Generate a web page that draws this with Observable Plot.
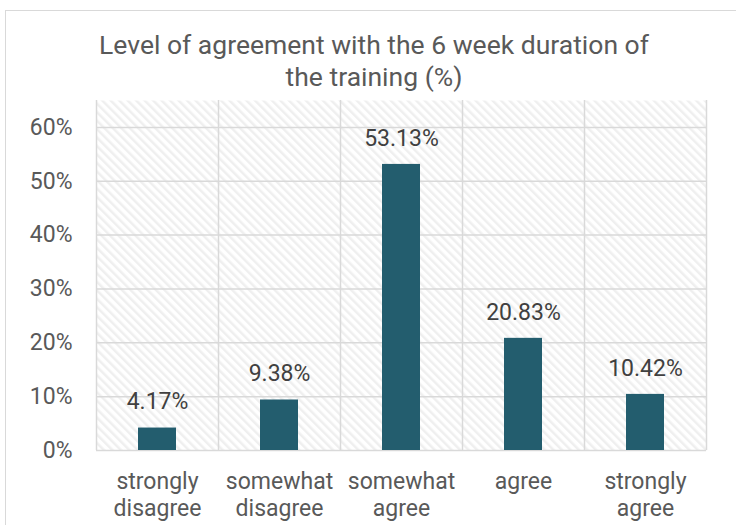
<!DOCTYPE html>
<html>
<head>
<meta charset="utf-8">
<script src="https://cdn.jsdelivr.net/npm/d3@7"></script>
<script src="https://cdn.jsdelivr.net/npm/@observablehq/plot@0.6"></script>
<style>
  html, body { margin: 0; padding: 0; background: #fff; }
  #wrap { position: relative; width: 736px; height: 525px; overflow: hidden; font-family: Roboto, sans-serif; }
  .bt { position: absolute; left: 5px; top: 10px; right: -10px; height: 0; border-top: 1.5px solid #d9d9d9; }
  .bl { position: absolute; left: 5px; top: 10px; bottom: -10px; width: 0; border-left: 1.5px solid #d9d9d9; }
  #title { position: absolute; left: 5px; width: 738px; top: 29px; text-align: center; font-size: 26.5px; line-height: 32px; color: #595959; }
  #chart { position: absolute; left: 0; top: 0; }
</style>
</head>
<body>
<div id="wrap">
  <div class="bt"></div>
  <div class="bl"></div>
  <div id="title">Level of agreement with the 6 week duration of<br>the training (%)</div>
  <div id="chart"></div>
</div>
<script>
const categories = ["strongly disagree", "somewhat disagree", "somewhat agree", "agree", "strongly agree"];
const tickLabels = ["strongly\ndisagree", "somewhat\ndisagree", "somewhat\nagree", "agree", "strongly\nagree"];
const values = [4.17, 9.38, 53.13, 20.83, 10.42];
const yTicks = [0, 10, 20, 30, 40, 50, 60];

const data = categories.map((c, i) => ({category: c, value: values[i]}));

const chart = Plot.plot({
  width: 736,
  height: 525,
  marginTop: 100,
  marginBottom: 75,
  marginLeft: 96,
  marginRight: 30,
  style: {fontFamily: "Roboto, sans-serif", fontSize: "23px", color: "#595959", background: "transparent"},
  x: {domain: categories, paddingInner: 0.69, paddingOuter: 0.345, label: null},
  y: {domain: [0, 65], label: null},
  marks: [
    Plot.frame({fill: "url(#hatch)", stroke: null}),
    Plot.gridY(yTicks, {stroke: "#d9d9d9", strokeOpacity: 1, strokeWidth: 1.5}),
    Plot.ruleX(categories, {x: d => d, dx: -61, stroke: "#d9d9d9", strokeWidth: 1.5}),
    Plot.ruleX(categories.slice(-1), {x: d => d, dx: 61, stroke: "#d9d9d9", strokeWidth: 1.5}),
    Plot.barY(data, {x: "category", y: "value", fill: "#235d6e"}),
    Plot.text(data, {x: "category", y: "value", text: d => d3.format(".2f")(d.value) + "%", dy: -26, fill: "#404040", fontSize: 23, lineAnchor: "middle"}),
    Plot.axisX({tickSize: 0, tickPadding: 19, lineHeight: 1.17, fontSize: 23, fill: "#595959",
      tickFormat: d => tickLabels[categories.indexOf(d)]}),
    Plot.axisY(yTicks, {tickSize: 0, tickPadding: 24, fontSize: 23, fill: "#595959", tickFormat: d => d + "%"})
  ]
});

// hatch pattern for the plot area
const ns = "http://www.w3.org/2000/svg";
const defs = document.createElementNS(ns, "defs");
const pat = document.createElementNS(ns, "pattern");
pat.setAttribute("id", "hatch");
pat.setAttribute("patternUnits", "userSpaceOnUse");
pat.setAttribute("width", "6");
pat.setAttribute("height", "6");
pat.setAttribute("patternTransform", "rotate(-45)");
const bg = document.createElementNS(ns, "rect");
bg.setAttribute("width", "6"); bg.setAttribute("height", "6"); bg.setAttribute("fill", "#ffffff");
const ln = document.createElementNS(ns, "rect");
ln.setAttribute("width", "2.5"); ln.setAttribute("height", "6"); ln.setAttribute("fill", "#efefef");
pat.appendChild(bg); pat.appendChild(ln);
defs.appendChild(pat);
chart.insertBefore(defs, chart.firstChild);

document.getElementById("chart").appendChild(chart);
</script>
</body>
</html>
